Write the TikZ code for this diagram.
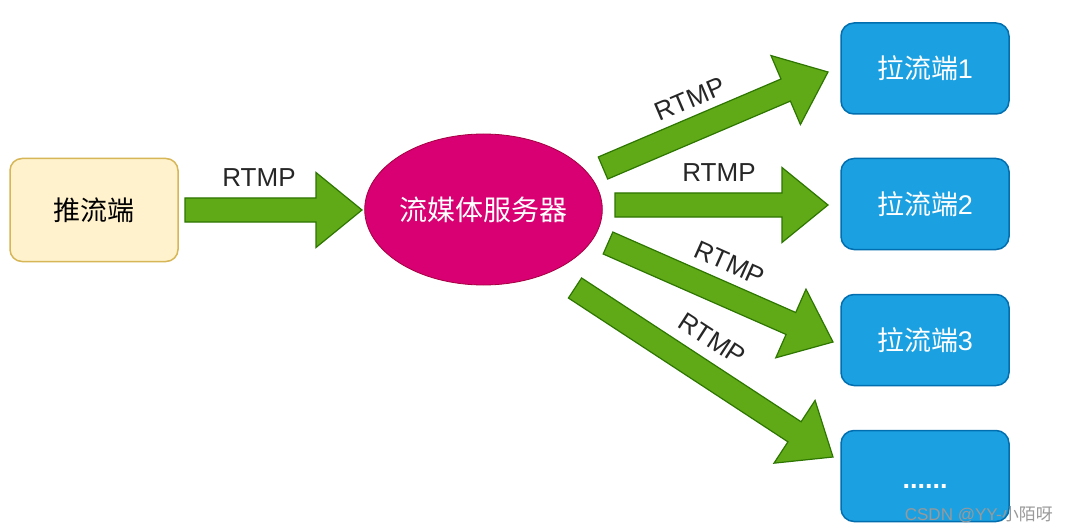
\documentclass[tikz,border=0pt]{standalone}
\usepackage{fontspec}
\setmainfont{Liberation Sans}
\newfontfamily\cjk{Noto Sans CJK SC}
\usetikzlibrary{calc,shapes.geometric}
\definecolor{yfill}{HTML}{FFF2CC}
\definecolor{ystroke}{HTML}{D6B656}
\definecolor{bfill}{HTML}{1BA1E2}
\definecolor{bstroke}{HTML}{006EAF}
\definecolor{mfill}{HTML}{D80073}
\definecolor{mstroke}{HTML}{A50040}
\definecolor{gfill}{HTML}{60A917}
\definecolor{gstroke}{HTML}{2D7600}
\tikzset{
  srcbox/.style={draw=ystroke, fill=yfill, line width=1.5pt, rounded corners=12pt,
    minimum width=168pt, minimum height=103pt, inner sep=0pt,
    font=\fontsize{27}{32}\selectfont\cjk},
  dstbox/.style={draw=bstroke, fill=bfill, line width=1.5pt, rounded corners=13pt,
    minimum width=168pt, minimum height=91pt, inner sep=0pt, text=white,
    font=\fontsize{27}{32}\selectfont},
  server/.style={ellipse, draw=mstroke, fill=mfill, line width=0.8pt,
    minimum width=227pt, minimum height=151pt, inner sep=0pt, text=white,
    font=\fontsize{28}{32}\selectfont\cjk},
  lbl/.style={inner sep=0pt, font=\fontsize{26}{30}\selectfont, text=black!85},
  fatarrow/.style={draw=gstroke, fill=gfill, line width=1.2pt, line join=miter},
  wm/.style={inner sep=0pt, text=black!40, font=\fontsize{17}{20}\selectfont}
}
\newcommand\fatarr[2]{%
  \path[fatarrow]
    ($(#1)!12pt!90:(#2)$) --
    ($($(#2)!46pt!(#1)$)!12pt!-90:(#1)$) --
    ($($(#2)!46pt!(#1)$)!37.5pt!-90:(#1)$) --
    (#2) --
    ($($(#2)!46pt!(#1)$)!37.5pt!90:(#1)$) --
    ($($(#2)!46pt!(#1)$)!12pt!90:(#1)$) --
    ($(#1)!12pt!-90:(#2)$) -- cycle;}
\begin{document}
\begin{tikzpicture}[x=1pt,y=-1pt]
\useasboundingbox (0,0) rectangle (1069,532);
\fill[white] (0,0) rectangle (1069,532);

\node[srcbox] (push) at (94,210) {推流端};
\node[server] (srv) at (483.5,209.5) {流媒体服务器};
\node[dstbox] (pull1) at (925,68.5) {{\cjk 拉流端}1};
\node[dstbox] (pull2) at (925,204) {{\cjk 拉流端}2};
\node[dstbox] (pull3) at (925,340) {{\cjk 拉流端}3};
\node[dstbox] (pull4) at (925,476) {};
\node[inner sep=0pt, text=white, font=\fontsize{27}{32}\selectfont\bfseries,
  anchor=base] (dots) at (925,488) {......};

% arrow end points
\coordinate (a0s) at (185,210);   \coordinate (a0e) at (362,210);
\coordinate (a1s) at (603,168);   \coordinate (a1e) at (828,72);
\coordinate (a2s) at (615,205);   \coordinate (a2e) at (828,205);
\coordinate (a3s) at (608,243);   \coordinate (a3e) at (833,342);
\coordinate (a4s) at (575,288);   \coordinate (a4e) at (833,457);

\fatarr{a0s}{a0e}
\fatarr{a1s}{a1e}
\fatarr{a2s}{a2e}
\fatarr{a3s}{a3e}
\fatarr{a4s}{a4e}

\node[lbl] (l0) at (259,178) {RTMP};
\node[lbl, rotate=23] (l1) at (690,99) {RTMP};
\node[lbl] (l2) at (719,173) {RTMP};
\node[lbl, rotate=-24] (l3) at (730,263) {RTMP};
\node[lbl, rotate=-33] (l4) at (712,339) {RTMP};

\node[wm, anchor=base east] (wmk) at (1053,520) {CSDN @YY-{\cjk 小陌呀}};
\end{tikzpicture}
\end{document}
